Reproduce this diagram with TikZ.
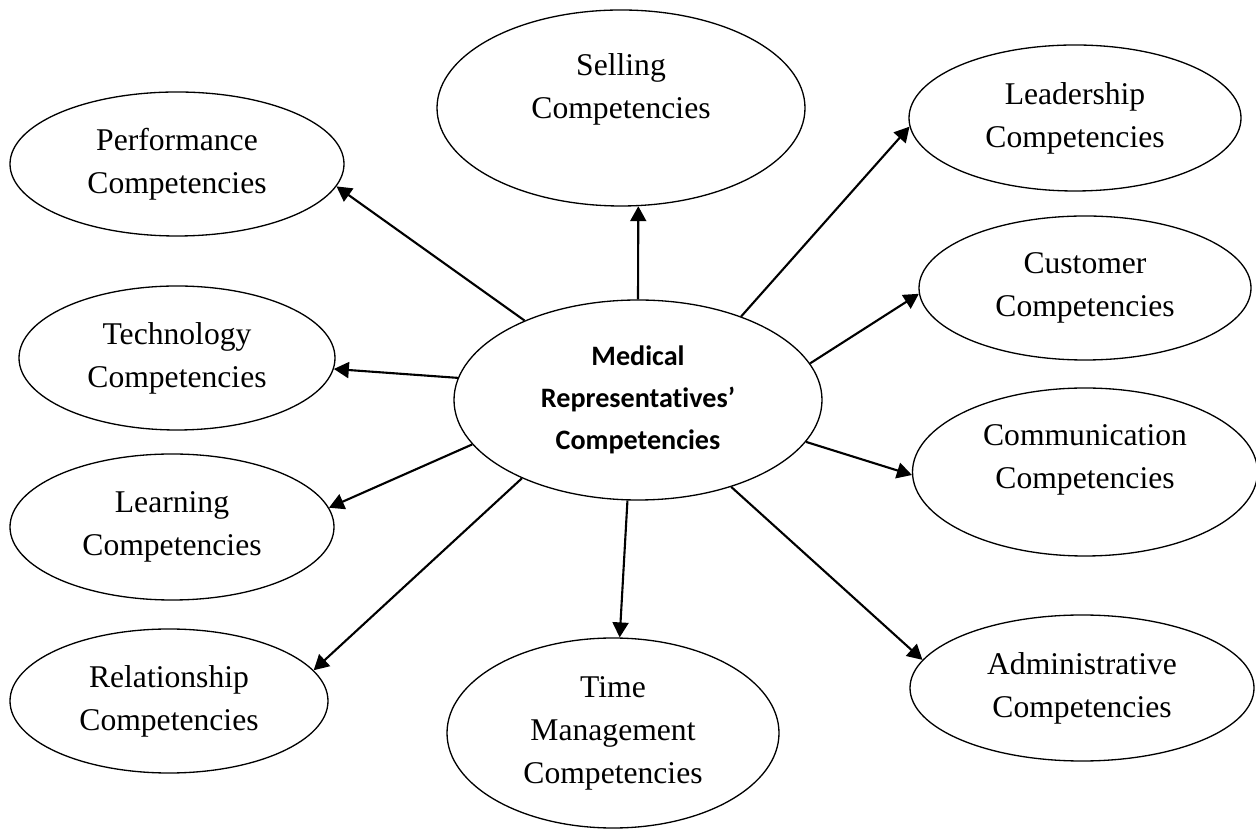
\documentclass[tikz,border=0pt]{standalone}
\usepackage{fontspec}
\setmainfont{Liberation Serif}
\newfontfamily\calibri[Ligatures=NoCommon]{Carlito}
\usepackage{tikz}
\usetikzlibrary{arrows.meta, shapes.geometric}

\begin{document}
\begin{tikzpicture}[>={Triangle[length=0.3cm, width=0.32cm]}, line width=1.2pt,
  comp/.style={draw, ellipse, line width=0.75pt, inner sep=0pt, align=center, font=\fontsize{18}{24.5}\selectfont},
  core/.style={comp, font=\calibri\bfseries\fontsize{16}{24}\selectfont}]

\useasboundingbox (0,0) rectangle (25.12,16.6);

\node[core, minimum width=7.36cm, minimum height=4cm] (mrc) at (12.76,8.6) {Medical\\Representatives’\\Competencies};

% left column
\node[comp, minimum width=6.68cm, minimum height=2.88cm] (perf) at (3.54,13.32) {Performance\\Competencies};
\node[comp, minimum width=6.32cm, minimum height=2.88cm] (tech) at (3.54,9.44) {Technology\\Competencies};
\node[comp, minimum width=6.48cm, minimum height=2.92cm] (learn) at (3.44,6.06) {Learning\\Competencies};
\node[comp, minimum width=6.36cm, minimum height=2.88cm] (rel) at (3.38,2.58) {Relationship\\Competencies};

% top and bottom
\node[comp, minimum width=7.36cm, minimum height=3.92cm] (sell) at (12.42,14.44) {Selling\\Competencies\\~};
\node[comp, minimum width=6.64cm, minimum height=3.8cm] (time) at (12.26,1.94) {Time\\Management\\Competencies};

% right column
\node[comp, minimum width=6.64cm, minimum height=2.92cm] (lead) at (21.5,14.24) {Leadership\\Competencies};
\node[comp, minimum width=6.64cm, minimum height=2.88cm] (cust) at (21.7,10.84) {Customer\\Competencies};
\node[comp, minimum width=6.9cm, minimum height=3.36cm] (comm) at (21.7,7.16) {Communication\\Competencies\\[-0.25cm]};
\node[comp, minimum width=6.88cm, minimum height=2.92cm] (admin) at (21.64,2.84) {Administrative\\Competencies};

\draw[->] (mrc.90) -- (sell.280);
\draw[->] (mrc.145) -- (perf.352);
\draw[->] (mrc.173) -- (tech.356);
\draw[->] (mrc.195) -- (learn.7);
\draw[->] (mrc.214) -- (rel.12);
\draw[->] (mrc.264) -- (time.86);
\draw[->] (mrc.317) -- (admin.170);
\draw[->] (mrc.346) -- (comm.181);
\draw[->] (mrc.12) -- (cust.182);
\draw[->] (mrc.39) -- (lead.183);

\end{tikzpicture}
\end{document}
